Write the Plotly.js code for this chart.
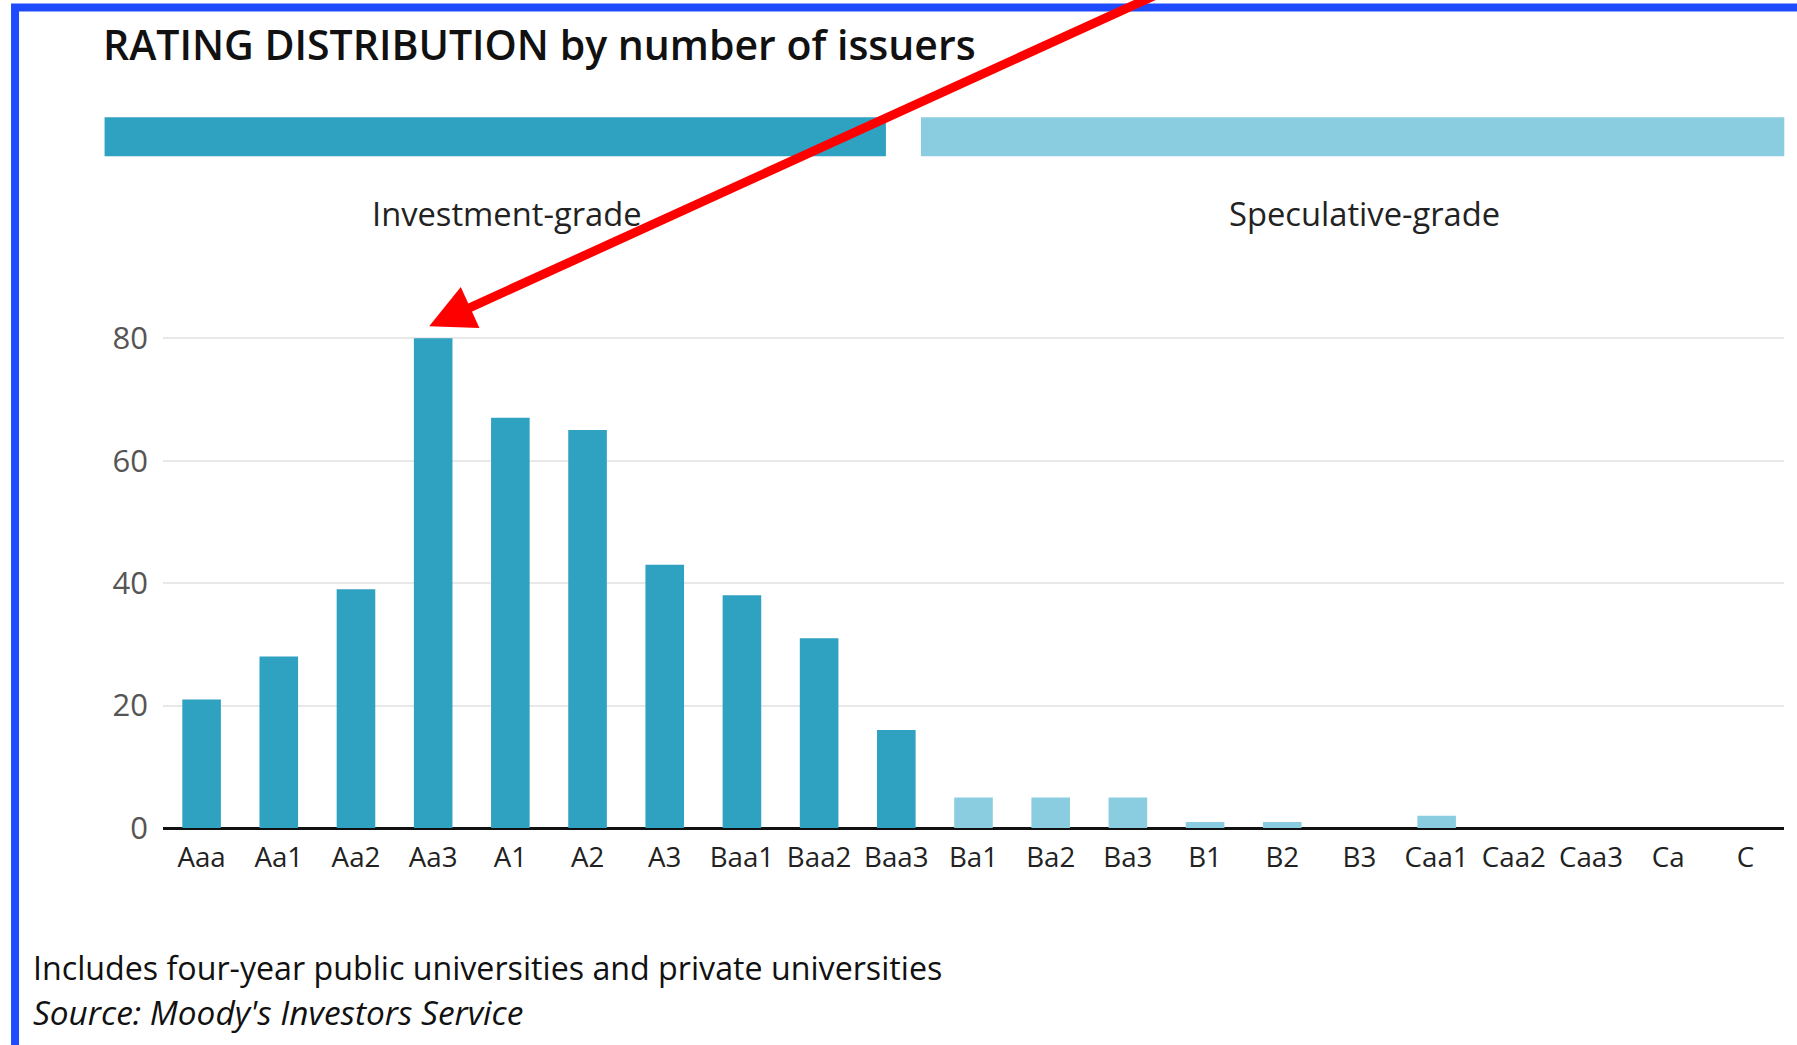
<!DOCTYPE html>
<html><head><meta charset="utf-8">
<script src="https://cdn.plot.ly/plotly-3.0.1.min.js"></script>
<style>html,body{margin:0;padding:0;background:#fff;overflow:hidden}#chart{width:1797px;height:1045px}</style>
</head><body><div id="chart"></div>
<script>
// ---- data ----
const categories = ['Aaa','Aa1','Aa2','Aa3','A1','A2','A3','Baa1','Baa2','Baa3','Ba1','Ba2','Ba3','B1','B2','B3','Caa1','Caa2','Caa3','Ca','C'];
const issuers = [21,28,39,80,67,65,43,38,31,16,5,5,5,1,1,0,2,0,0,0,0];
const gradeOf = ['IG','IG','IG','IG','IG','IG','IG','IG','IG','IG','SG','SG','SG','SG','SG','SG','SG','SG','SG','SG','SG'];
const groupNames = {IG:'Investment-grade', SG:'Speculative-grade'};
const groupColors = {IG:'#2fa1c1', SG:'#8bcde0'};
const yTicks = [0,20,40,60,80];
const titleText = 'RATING DISTRIBUTION by number of issuers';
const noteText = 'Includes four-year public universities and private universities';
const sourceText = "Source: Moody's Investors Service";

// ---- geometry helpers (pixels -> paper) ----
const FIG_W = 1797, FIG_H = 1045;
const M = {l:163.4, r:13.3, t:325.75, b:217, pad:0};
const PW = FIG_W - M.l - M.r, PH = FIG_H - M.t - M.b;
const px = v => (v - M.l) / PW;
const py = v => (FIG_H - M.b - v) / PH;

const FONT = '"Open Sans", "Noto Sans", sans-serif';

const trace = {
  type:'bar', x:categories, y:issuers,
  marker:{color: gradeOf.map(g => groupColors[g]), line:{width:0}},
  hoverinfo:'x+y'
};

const layout = {
  width:FIG_W, height:FIG_H, margin:M,
  paper_bgcolor:'#fff', plot_bgcolor:'#fff',
  showlegend:false, bargap:0.5,
  font:{family:FONT, color:'#222'},
  title:{text:titleText, xref:'container', yref:'container', x:103/FIG_W, y:1-46/FIG_H,
         xanchor:'left', yanchor:'middle', font:{family:FONT, size:41, weight:600, color:'#111'}},
  xaxis:{type:'category', tickfont:{size:27.7, color:'#222'}, showgrid:false, zeroline:false,
         showline:false, ticks:'', ticklabelstandoff:10, fixedrange:true},
  yaxis:{range:[0,82], tickvals:yTicks, ticktext:yTicks.map(String), tickfont:{size:31, color:'#555'},
         showgrid:true, gridcolor:'#e8e8e8', gridwidth:2, zeroline:true, zerolinecolor:'#111',
         zerolinewidth:3, showline:false, ticks:'', ticklabelstandoff:14, fixedrange:true},
  shapes:[
    {type:'rect', xref:'paper', yref:'paper', x0:px(105), x1:px(886), y0:py(156), y1:py(117),
     fillcolor:groupColors.IG, line:{width:0}},
    {type:'rect', xref:'paper', yref:'paper', x0:px(921), x1:px(1784), y0:py(156), y1:py(117),
     fillcolor:groupColors.SG, line:{width:0}},
    {type:'rect', xref:'paper', yref:'paper', x0:px(15.5), x1:px(1830), y0:py(1080), y1:py(7),
     fillcolor:'rgba(0,0,0,0)', line:{width:8, color:'#1f4bff'}}
  ],
  annotations:[
    {xref:'paper', yref:'paper', x:px(507), y:py(213), xanchor:'center', yanchor:'middle',
     text:groupNames.IG, showarrow:false, font:{family:FONT, size:32.7, color:'#222'}},
    {xref:'paper', yref:'paper', x:px(1364), y:py(213), xanchor:'center', yanchor:'middle',
     text:groupNames.SG, showarrow:false, font:{family:FONT, size:32.7, color:'#222'}},
    {xref:'paper', yref:'paper', x:px(31), y:py(968), xanchor:'left', yanchor:'middle',
     text:noteText, showarrow:false, font:{family:FONT, size:32.2, color:'#111'}},
    {xref:'paper', yref:'paper', x:px(31), y:py(1012), xanchor:'left', yanchor:'middle',
     text:'<i>'+sourceText+'</i>', showarrow:false, font:{family:FONT, size:33.4, color:'#111'}},
    {xref:'x', yref:'y', x:categories[issuers.indexOf(Math.max(...issuers))], y:Math.max(...issuers),
     xshift:-4, yshift:12, text:'', showarrow:true, arrowhead:2, arrowsize:1, arrowwidth:9,
     arrowcolor:'#ff0000', ax:735, ay:-335, standoff:0}
  ]
};

Plotly.newPlot('chart', [trace], layout, {displayModeBar:false, staticPlot:true});
</script>
</body></html>
